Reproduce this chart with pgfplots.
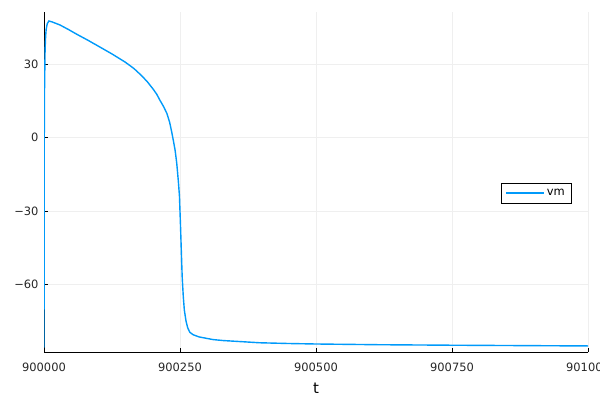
\documentclass[border=0pt]{standalone}
\usepackage{pgfplots}
\pgfplotsset{compat=1.18}
\usepackage{fontspec}
\setmainfont{DejaVu Sans}
\definecolor{jblue}{RGB}{0,154,250}
\definecolor{jgrid}{RGB}{239,239,239}
\begin{document}
\begin{tikzpicture}[x=1bp,y=1bp]
\useasboundingbox (0,0) rectangle (600,400);
\begin{axis}[
  at={(44bp,47.7bp)}, anchor=south west,
  scale only axis, width=544bp, height=340.6bp,
  xmin=900000, xmax=901000, ymin=-87.9, ymax=51.5,
  axis x line*=bottom, axis y line*=left,
  axis line style={-, black, line width=0.6bp},
  scaled x ticks=false,
  xtick={900000,900250,900500,900750,901000},
  xticklabels={900000,900250,900500,900750,901000},
  ytick={-60,-30,0,30},
  yticklabels={−60,−30,0,30},
  tick label style={font=\fontsize{11.5}{13}\selectfont, black!85},
  xticklabel style={yshift=-7bp},
  yticklabel style={xshift=-2bp},
  tick align=inside, major tick length=4bp,
  tick style={black, line width=0.5bp},
  grid=major, major grid style={jgrid, line width=0.5bp},
  xlabel={t}, xlabel style={font=\fontsize{15}{17}\selectfont, yshift=-5bp},
  legend style={at={(0.969,0.468)}, anchor=east, draw=black, line width=0.6bp,
    font=\fontsize{11.5}{13}\selectfont, inner xsep=4bp, inner ysep=4bp},
  legend cell align=left,
  legend image code/.code={\draw[#1, line width=1.4bp] (-4bp,0bp) -- (34bp,0bp);},
]
\addplot[jblue, line width=1.4bp] coordinates {
(900000,-86) (900000.5,0) (900001,20) (900002,36) (900003,41.5) (900004,44.3)
(900006,46.6) (900009,47.7) (900015,47.3) (900029,46.1) (900045,44.2)
(900060,42.3) (900080,39.9) (900103,37.0) (900125,34.2) (900149,30.9)
(900165,28.3) (900180,25.2) (900190,22.8) (900200,20.0) (900207,17.8)
(900213,15.3) (900220,12.6) (900226,9.8) (900231,6.2) (900235,2.0)
(900238,-1.5) (900241,-5.2) (900244,-10.5) (900247,-18) (900249,-24)
(900251,-36.6) (900252.5,-47) (900254,-57) (900256,-65) (900258,-70.7)
(900261,-75) (900264,-77.8) (900268,-79.7) (900274,-80.7) (900285,-81.6)
(900299,-82.2) (900311,-82.7) (900330,-83.1) (900360,-83.5) (900397,-84.0)
(900450,-84.3) (900500,-84.5) (900618,-84.8) (900750,-85.0) (900875,-85.15) (901000,-85.3)
};
\addlegendentry{vm}
\end{axis}
\end{tikzpicture}
\end{document}
